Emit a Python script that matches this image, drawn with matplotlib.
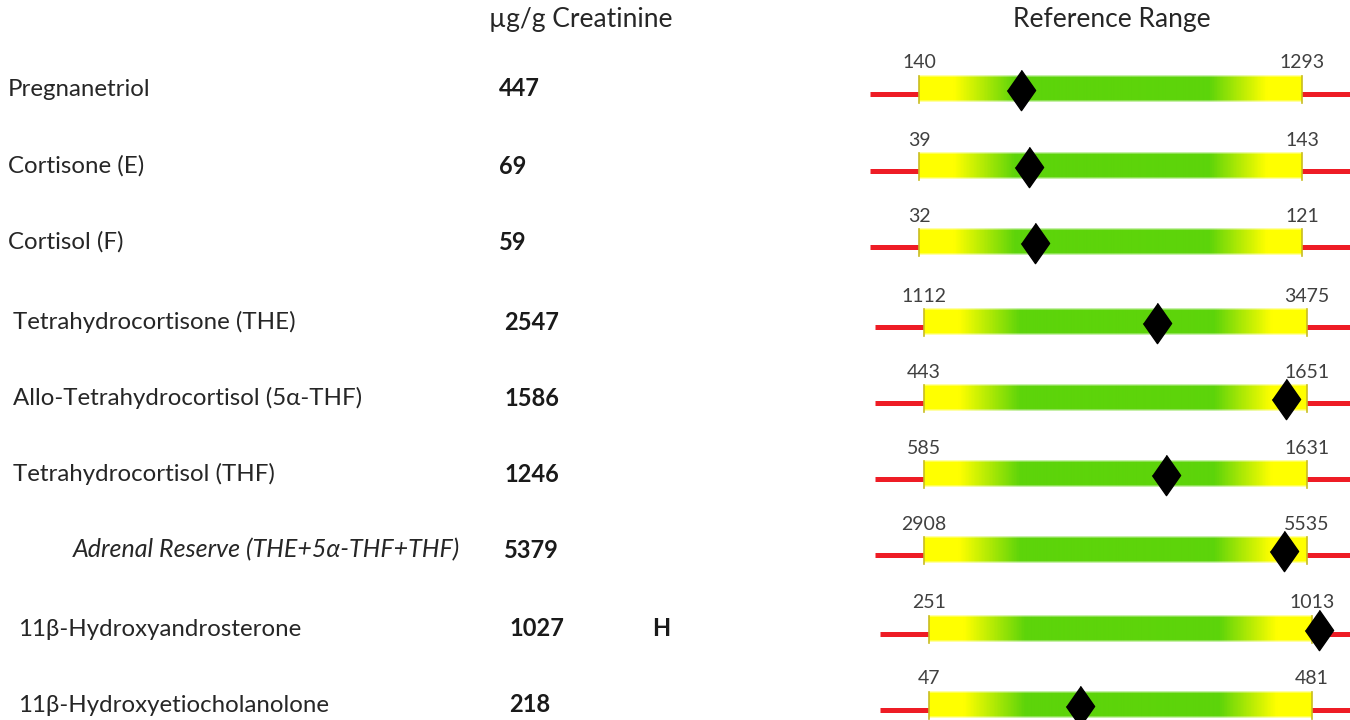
import numpy as np
import matplotlib.pyplot as plt
from matplotlib.colors import LinearSegmentedColormap

plt.rcParams['font.family'] = ['Lato', 'DejaVu Sans']

# data
names = ['Pregnanetriol', 'Cortisone (E)', 'Cortisol (F)',
         'Tetrahydrocortisone (THE)', 'Allo-Tetrahydrocortisol (5\u03b1-THF)',
         'Tetrahydrocortisol (THF)', 'Adrenal Reserve (THE+5\u03b1-THF+THF)',
         '11\u03b2-Hydroxyandrosterone', '11\u03b2-Hydroxyetiocholanolone']
values = [447, 69, 59, 2547, 1586, 1246, 5379, 1027, 218]
ref_low = [140, 39, 32, 1112, 443, 585, 2908, 251, 47]
ref_high = [1293, 143, 121, 3475, 1651, 1631, 5535, 1013, 481]
flags = ['', '', '', '', '', '', '', 'H', '']
italic = [False, False, False, False, False, False, True, False, False]

# layout (pixels)
row_y = [89, 166, 242, 322, 398, 474, 550, 629, 705]
shift = [0, 0, 0, 5, 5, 5, 5, 10, 10]
label_x = [8, 8, 8, 13, 13, 13, 73, 18, 18]
val_x = 499
bar_x0, bar_x1 = 919, 1302
red_x0 = 870
bar_h = 27

W, H = 1350, 720
fig = plt.figure(figsize=(W / 100, H / 100), dpi=100)
ax = fig.add_axes([0, 0, 1, 1])
ax.set_xlim(0, W)
ax.set_ylim(H, 0)
ax.axis('off')

cmap = LinearSegmentedColormap.from_list('rng', [
    (0.0, '#ffff00'), (0.09, '#ffff00'), (0.25, '#5dd40a'),
    (0.76, '#5dd40a'), (0.91, '#ffff00'), (1.0, '#ffff00')])
nx, ny = 400, bar_h
rgba = cmap(np.linspace(0, 1, nx))[None, :, :].repeat(ny, axis=0)
edge = np.ones(ny)
edge[0] = edge[-1] = 0.35
edge[1] = edge[-2] = 0.7
rgba[:, :, 3] = edge[:, None]

ax.text(581, 19, '\u00b5g/g Creatinine', fontsize=19, color='#262626',
        ha='center', va='center')
ax.text(1112, 19, 'Reference Range', fontsize=19, color='#262626',
        ha='center', va='center')

for i, name in enumerate(names):
    y = row_y[i]
    s = shift[i]
    ax.text(label_x[i], y, name, fontsize=18 if italic[i] else 17.3,
            color='#262626', va='center',
            style='italic' if italic[i] else 'normal')
    ax.text(val_x + s, y, str(values[i]), fontsize=17, fontweight='bold',
            color='#1a1a1a', va='center')
    if flags[i]:
        ax.text(652, y, flags[i], fontsize=17, fontweight='bold',
                color='#1a1a1a', va='center')

    x0, x1 = bar_x0 + s, bar_x1 + s
    ax.plot([red_x0 + s, W], [y + 5, y + 5], color='#ee1c25', lw=3.6,
            solid_capstyle='butt', zorder=1)
    ax.imshow(rgba, extent=[x0, x1, y + bar_h / 2, y - bar_h / 2],
              aspect='auto', interpolation='bilinear', zorder=2)
    for xe in (x0, x1):
        ax.plot([xe, xe], [y - bar_h / 2, y + bar_h / 2], color='#c8bc20',
                lw=1.2, zorder=3)
    ax.text(x0, y - 26, str(ref_low[i]), fontsize=14, color='#404040',
            ha='center', va='center')
    ax.text(x1, y - 26, str(ref_high[i]), fontsize=14, color='#404040',
            ha='center', va='center')

    frac = (values[i] - ref_low[i]) / (ref_high[i] - ref_low[i])
    xm = x0 + frac * (x1 - x0)
    ax.plot(xm, y + 1, marker=[(0, 1), (0.7, 0), (0, -1), (-0.7, 0)],
            ms=29, color='black', zorder=4)

ax.set_xlim(0, W)
ax.set_ylim(H, 0)
fig.savefig('out.png', dpi=100)
